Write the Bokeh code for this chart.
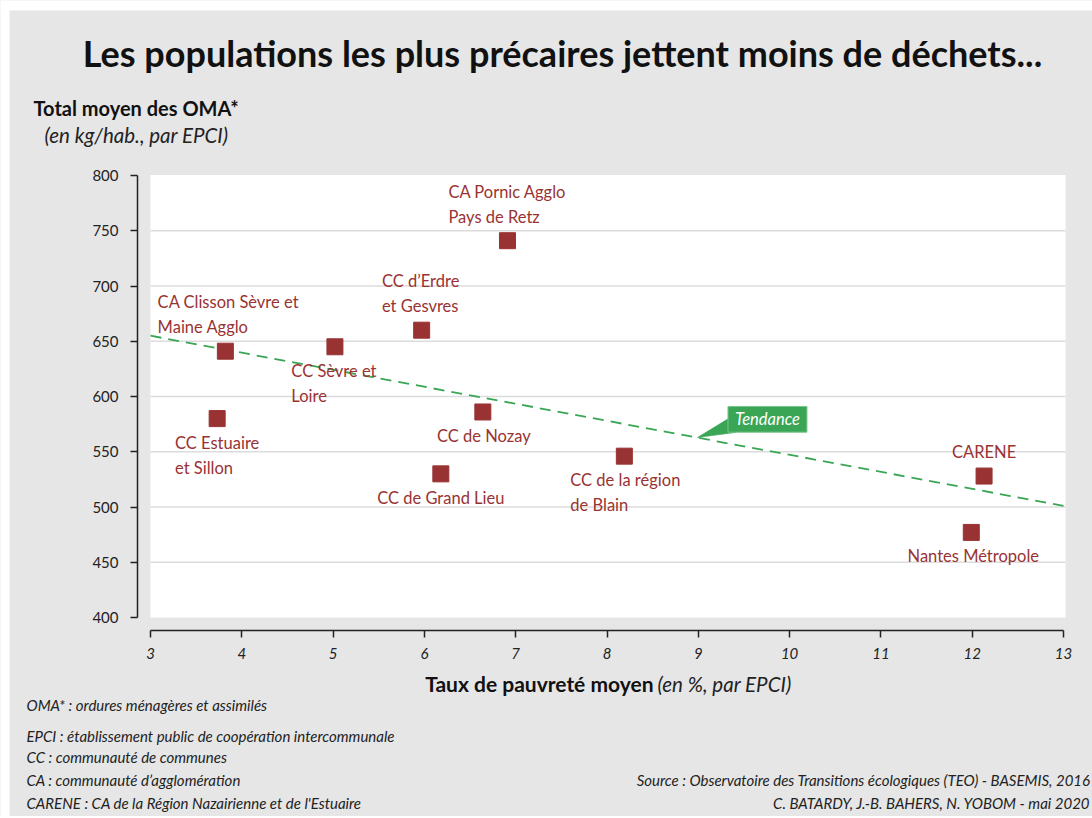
from bokeh.plotting import figure
from bokeh.models import Range1d, Label, LabelSet, ColumnDataSource
from bokeh.core.properties import value
from bokeh.embed import file_html
from bokeh.resources import INLINE

# ---------------- data ----------------
names = ["CA Clisson Sèvre et\nMaine Agglo", "CC Estuaire\net Sillon", "CC Sèvre et\nLoire",
         "CC d’Erdre\net Gesvres", "CA Pornic Agglo\nPays de Retz", "CC de Nozay",
         "CC de Grand Lieu", "CC de la région\nde Blain", "CARENE", "Nantes Métropole"]
poverty = [3.82, 3.73, 5.02, 5.97, 6.91, 6.64, 6.18, 8.19, 12.13, 11.99]
oma = [641, 580, 645, 660, 741, 586, 530, 546, 528, 477]
trend_x = [3, 13]
trend_y = [655, 501]
x_ticks = [3, 4, 5, 6, 7, 8, 9, 10, 11, 12, 13]
y_ticks = [400, 450, 500, 550, 600, 650, 700, 750, 800]
grid_vals = [450, 500, 550, 600, 650, 700, 750]

title = "Les populations les plus précaires jettent moins de déchets..."
y_title = "Total moyen des OMA*"
y_subtitle = "(en kg/hab., par EPCI)"
x_title_bold = "Taux de pauvreté moyen"
x_title_ital = "(en %, par EPCI)"
notes = ["OMA* : ordures ménagères et assimilés",
         "EPCI : établissement public de coopération intercommunale",
         "CC : communauté de communes",
         "CA : communauté d’agglomération",
         "CARENE : CA de la Région Nazairienne et de l'Estuaire"]
source = ["Source : Observatoire des Transitions écologiques (TEO) - BASEMIS, 2016",
          "C. BATARDY, J.-B. BAHERS, N. YOBOM - mai 2020"]

# ---------------- layout ----------------
label_above = [True, False, False, True, True, False, False, False, True, False]
label_dx = [3, 0, -1, -1, 0, 1, 0, 1, 0, 2]

BG = "#e6e6e7"
RED = "#993333"
GREEN = "#3aa655"
FONT = "Lato"
W, H = 1092, 816
PXU, X3 = 91.3, 150.0      # page px per x unit, page x of x=3
PYU, Y800 = 1.105, 175.0   # page px per y unit, page y of y=800
x0 = 3 - X3 / PXU
y1 = 800 + Y800 / PYU

p = figure(width=W, height=H, output_backend="svg", toolbar_location=None,
           x_range=Range1d(x0, x0 + W / PXU), y_range=Range1d(y1 - H / PYU, y1),
           min_border=0)
p.extra_x_ranges = {"page": Range1d(0, W)}
p.extra_y_ranges = {"page": Range1d(H, 0)}
p.background_fill_color = BG
p.border_fill_color = BG
p.outline_line_color = None
p.xgrid.visible = False
p.ygrid.visible = False

# white page margin strips (top / left of the card)
p.quad(left=[0, 0], right=[W, 9], top=[0, 0], bottom=[10, H], fill_color="white",
       line_color=None, x_range_name="page", y_range_name="page")

x_right = 13 + 2 / PXU
p.quad(left=3, right=x_right, bottom=400, top=800.5, fill_color="white", line_color=None)
p.segment(x0=[3] * len(grid_vals), x1=[x_right] * len(grid_vals), y0=grid_vals, y1=grid_vals,
          line_color="#dcdcdc", line_width=1.5)

# axes, fixed in place (no side panels)
p.xaxis.fixed_location = 800 - (630 - Y800) / PYU
p.yaxis.fixed_location = 3 - 13 / PXU
for ax in (p.xaxis, p.yaxis):
    ax.axis_line_color = "#222222"
    ax.axis_line_width = 1.5
    ax.major_tick_line_color = "#222222"
    ax.major_tick_line_width = 1.5
    ax.major_tick_in = 0
    ax.major_tick_out = 7
    ax.minor_tick_line_color = None
    ax.major_label_text_font = FONT
    ax.major_label_text_font_size = "15px"
    ax.major_label_text_color = "#222222"
p.xaxis.ticker = x_ticks
p.yaxis.ticker = y_ticks
p.xaxis.bounds = (3, 13)
p.yaxis.bounds = (400, 800)
p.xaxis.major_label_text_font_style = "italic"
p.xaxis.major_label_standoff = 10
p.yaxis.major_label_standoff = 12

# trend line
p.line(trend_x, trend_y, line_color=GREEN, line_width=1.8, line_dash="11 7")

# Tendance callout
p.patch([9.33, 8.99, 9.41], [580, 562.9, 567.4], fill_color=GREEN, line_color=GREEN, line_width=0.5)
p.quad(left=9.325, right=10.19, bottom=567.7, top=591, fill_color=GREEN, line_color="#7cc48d",
       line_width=1)
p.add_layout(Label(x=9.757, y=579.3, text="Tendance", text_align="center", text_baseline="middle",
                   text_color="white", text_font=FONT, text_font_style="italic",
                   text_font_size="16.5px"))

# points
p.scatter(poverty, oma, marker="square", size=16, fill_color=RED, line_color=RED)


def sub(cond):
    idx = [i for i in range(len(names)) if label_above[i] == cond]
    return ColumnDataSource(dict(x=[poverty[i] for i in idx], y=[oma[i] for i in idx],
                                 t=[names[i] for i in idx], dx=[label_dx[i] for i in idx]))


for src, base, off in ((sub(True), "bottom", 14), (sub(False), "top", -14)):
    p.add_layout(LabelSet(x="x", y="y", text="t", source=src, x_offset="dx", y_offset=off,
                          text_align="center", text_baseline=base, text_color=RED,
                          text_font=value(FONT), text_font_size="16.5px", text_line_height=1.25))


def put(x, y, text, align="left", size="15px", style="italic", color="#222222"):
    p.text(x=[x], y=[y], text=[text], text_align=align, text_baseline="middle",
           text_font=value(FONT), text_font_size=size, text_font_style=style, text_color=color,
           x_range_name="page", y_range_name="page")


put(562, 52, title, align="center", size="36px", style="bold", color="#111111")
put(33, 107, y_title, size="20px", style="bold", color="#111111")
put(44, 134, y_subtitle, size="20.5px", style="italic")
put(653, 683, x_title_bold, align="right", size="21px", style="bold", color="#111111")
put(657, 683, x_title_ital, size="20.5px", style="italic")
for t, y in zip(notes, [704, 735, 756, 779, 802]):
    put(26, y, t)
for t, y in zip(source, [779, 802]):
    put(1090, y, t, align="right")

open("out.html", "w").write(file_html(p, INLINE))
